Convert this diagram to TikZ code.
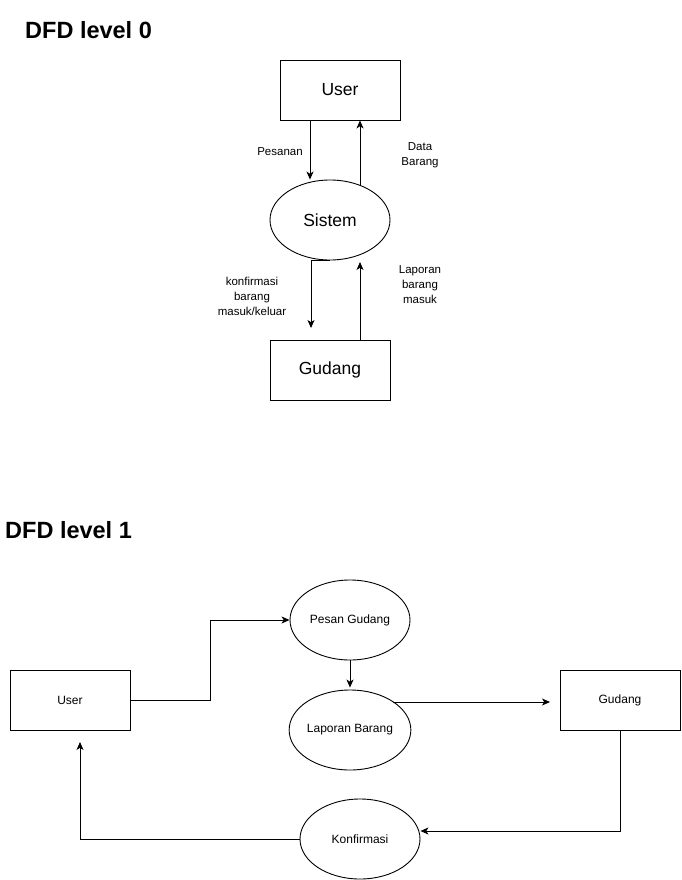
\documentclass[tikz,border=0pt]{standalone}
\usepackage{fontspec}
\setmainfont{Liberation Sans}
\usetikzlibrary{arrows.meta,shapes.geometric}

\tikzset{
  flow/.style={line width=0.9pt, -{Stealth[length=8pt,width=7pt,inset=2.2pt]}},
  entity/.style={draw, line width=0.9pt, rectangle, minimum width=120pt, minimum height=60pt, inner sep=0pt},
  proc/.style={draw, line width=0.9pt, ellipse, minimum width=120pt, minimum height=80pt, inner sep=0pt},
  bigtxt/.style={font=\fontsize{17.5}{20}\selectfont},
  smalltxt/.style={font=\fontsize{12}{14}\selectfont},
  lbl/.style={font=\fontsize{11.5}{15}\selectfont, align=center},
  heading/.style={font=\fontsize{23.5}{26}\selectfont\bfseries, anchor=west, inner sep=0pt}
}

\begin{document}
\begin{tikzpicture}[x=1pt, y=-1pt]
  \useasboundingbox (0,0) rectangle (681,880);

  % ---------- context diagram ----------
  \node[heading] (title0) at (25,30) {DFD level 0};

  \node[entity, bigtxt] (u0) at (340,90) {User};
  \node[proc, bigtxt] (s0) at (330,220) {Sistem};
  \node[entity, bigtxt] (g0) at (330,370) {Gudang};

  \coordinate (ds0) at (360,185.4);
  \coordinate (k0) at (311,328);
  \coordinate (l0) at (360,262);

  \draw[flow] ([xshift=-30pt]u0.south) -- ([xshift=-20pt]s0.north);
  \draw[flow] (ds0) -- ([xshift=20pt]u0.south);
  \draw[flow] (s0.south) -| (k0);
  \draw[flow] ([xshift=30pt]g0.north) -- (l0);

  \node[lbl] (lpes) at (280,152) {Pesanan};
  \node[lbl] (ldat) at (420,155) {Data\\Barang};
  \node[lbl] (lkon) at (252,296) {konfirmasi\\barang\\masuk/keluar};
  \node[lbl] (llap) at (420,285) {Laporan\\barang\\masuk};

  % ---------- level 1 diagram ----------
  \node[heading] (title1) at (5,530) {DFD level 1};

  \node[entity, smalltxt] (u1) at (70,700) {User};
  \node[entity, smalltxt] (g1) at (620,700) {Gudang};
  \node[proc, smalltxt] (pg) at (350,620) {Pesan Gudang};
  \node[proc, smalltxt] (lb) at (350,730) {Laporan Barang};
  \node[proc, smalltxt] (kf) at (360,839) {Konfirmasi};

  \coordinate (lbo) at (392.8,702);
  \coordinate (gin) at (550,702);
  \coordinate (uin) at (80,742);

  \draw[flow] (u1.east) -- ++(80,0) |- (pg.west);
  \draw[flow] (pg.south) -- ([yshift=2pt]lb.north);
  \draw[flow] (lbo) -- (gin);
  \draw[flow] (g1.south) |- ([yshift=8pt]kf.east);
  \draw[flow] (kf.west) -| (uin);
\end{tikzpicture}
\end{document}
